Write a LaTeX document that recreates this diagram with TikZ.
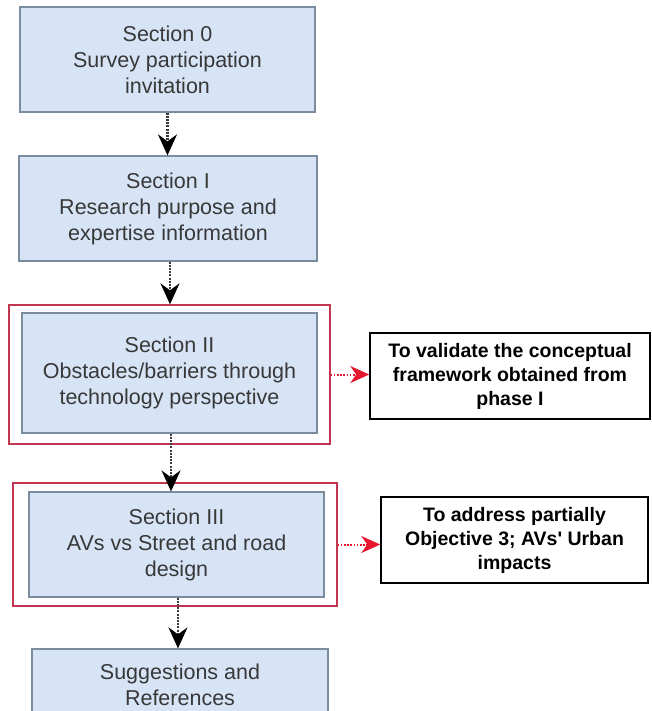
\documentclass[tikz,border=0pt]{standalone}
\usepackage{fontspec}
\setmainfont{Liberation Sans}
\usetikzlibrary{arrows.meta}
\definecolor{boxfill}{HTML}{D6E4F6}
\definecolor{boxline}{HTML}{7A8C9E}
\definecolor{boxtext}{HTML}{383838}
\definecolor{framered}{HTML}{C23650}
\definecolor{arrowred}{HTML}{E8152E}
\definecolor{flowline}{HTML}{3A3A3A}
\begin{document}
\begin{tikzpicture}[x=1pt,y=-1pt,
  section/.style={draw=boxline, fill=boxfill, line width=1.2pt, text=boxtext,
    align=center, inner sep=0pt, font=\fontsize{21.5}{26}\selectfont},
  note/.style={draw=black, fill=white, line width=1.5pt, align=center,
    inner sep=0pt, font=\bfseries\fontsize{19.5}{24}\selectfont},
  redframe/.style={draw=framered, line width=1.3pt, inner sep=0pt},
  flow/.style={draw=flowline, line width=2.4pt, dash pattern=on 2pt off 1.2pt,
    -{Stealth[length=21pt,width=19pt,inset=7pt,color=black]}},
  link/.style={draw=arrowred, line width=2pt, dash pattern=on 1.6pt off 1.6pt,
    -{Stealth[length=19pt,width=17pt,inset=6pt]}}
]
\clip (0,0) rectangle (651,711);
\fill[white] (0,0) rectangle (651,711);

% red frames around the two sections with remarks
\node[redframe, minimum width=321pt, minimum height=139pt] (f2) at (169.5,374.5) {};
\node[redframe, minimum width=324pt, minimum height=123pt] (f3) at (175,544.5) {};

% survey sections
\node[section, minimum width=295pt, minimum height=105pt] (s0) at (167.5,59.5)
  {Section 0\\Survey participation\\invitation};
\node[section, minimum width=298pt, minimum height=105pt] (s1) at (168,208.5)
  {Section I\\Research purpose and\\expertise information};
\node[section, minimum width=295pt, minimum height=120pt] (s2) at (169.5,373)
  {Section II\\Obstacles/barriers through\\technology perspective};
\node[section, minimum width=295pt, minimum height=105pt] (s3) at (176.5,544.5)
  {Section III\\AVs vs Street and road\\design};
\node[section, minimum width=296pt, minimum height=71pt] (s4) at (180,684.5)
  {Suggestions and\\References};

% remarks
\node[note, minimum width=280pt, minimum height=86pt] (n1) at (510,376)
  {To validate the conceptual\\framework obtained from\\phase I};
\node[note, minimum width=267pt, minimum height=86pt] (n2) at (514.5,540)
  {To address partially\\Objective 3; AVs\textquotesingle{} Urban\\impacts};

% flow between sections
\draw[flow] (s0.south) -- (s0.south |- s1.north);
\draw[flow] ([xshift=2pt]s1.south) -- ([xshift=2pt]s1.south |- f2.north);
\draw[flow] ([xshift=1.5pt]s2.south) -- ([xshift=1.5pt]s2.south |- s3.north);
\draw[flow] ([xshift=1.5pt]s3.south) -- ([xshift=1.5pt]s3.south |- s4.north);

% links to remarks
\draw[link] (f2.east) -- (f2.east -| n1.west);
\draw[link] (f3.east) -- (f3.east -| n2.west);
\end{tikzpicture}
\end{document}
